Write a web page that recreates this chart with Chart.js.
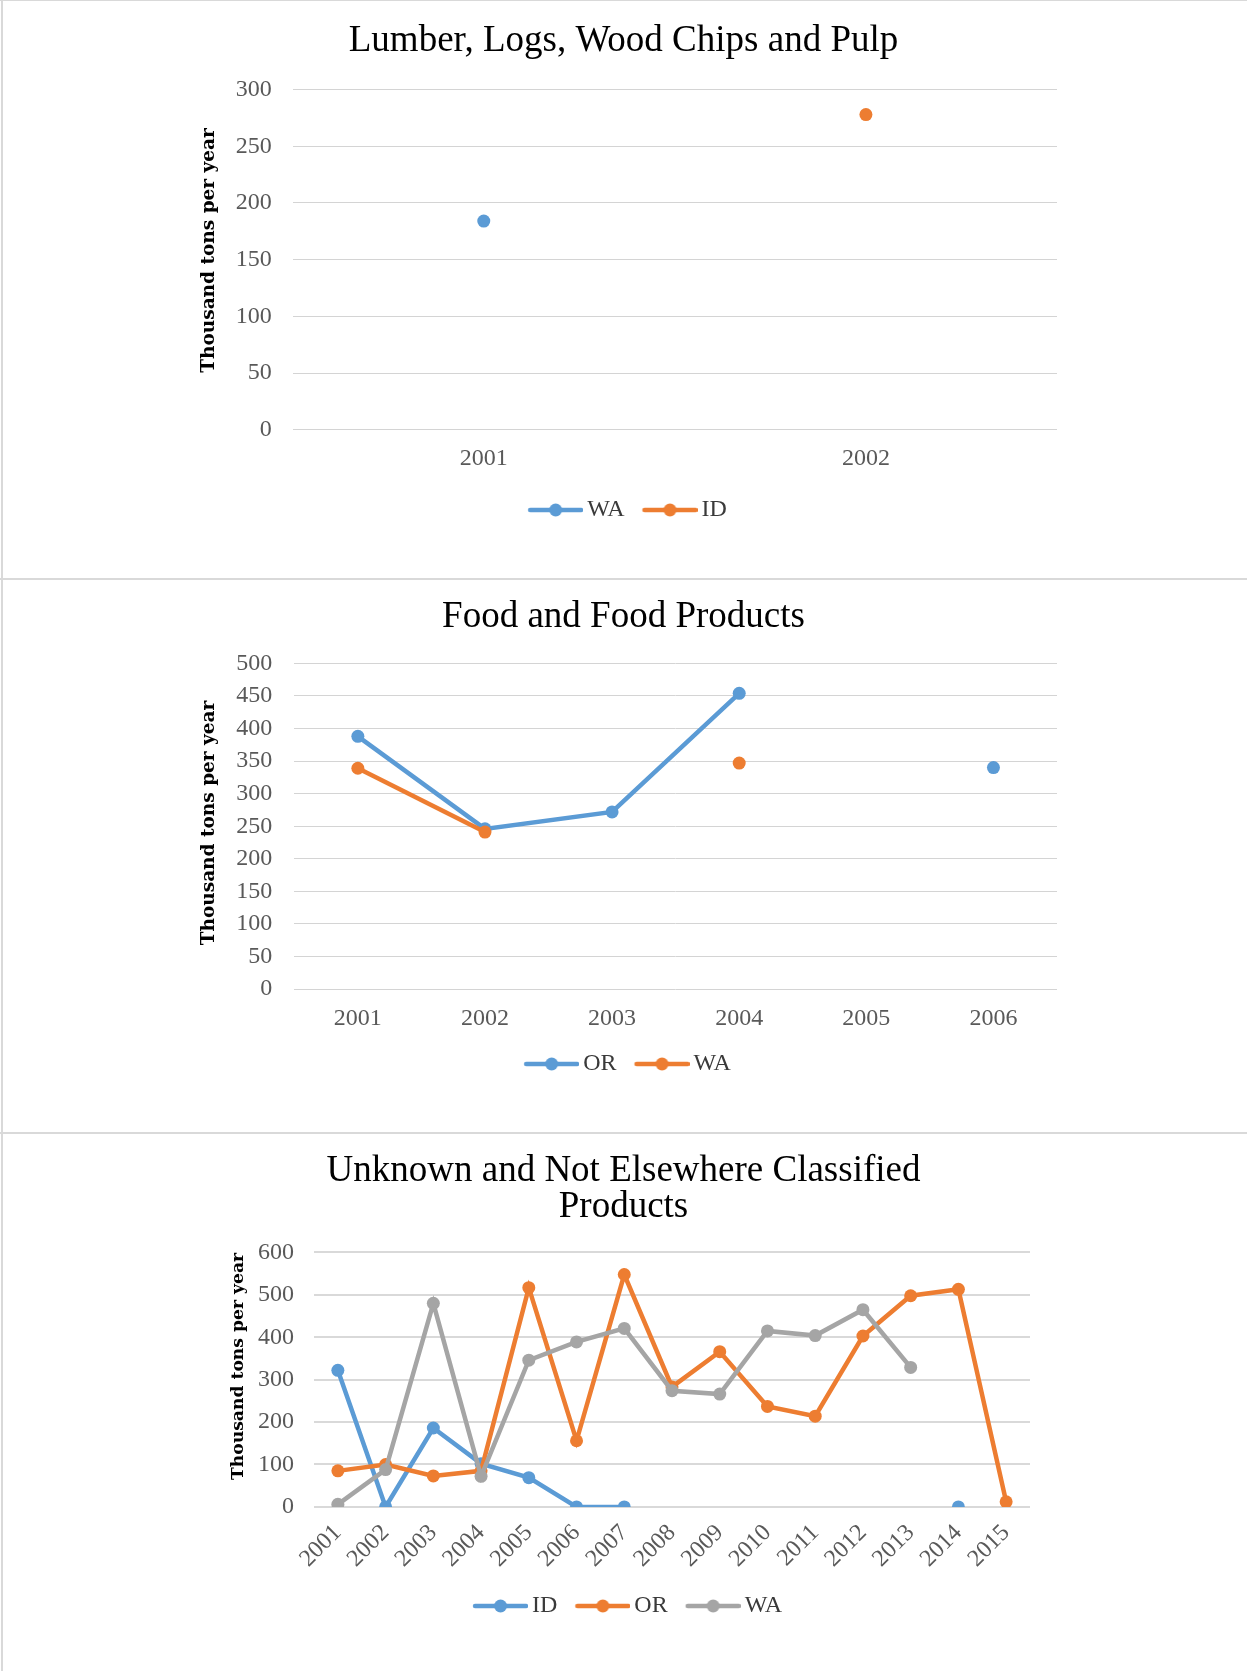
<!DOCTYPE html>
<html><head><meta charset="utf-8">
<script src="https://cdn.jsdelivr.net/npm/chart.js@4"></script>
<style>
html,body{margin:0;padding:0;background:#fff;}
body{width:1247px;height:1671px;position:relative;overflow:hidden;}
canvas{position:absolute;left:0;}
.ln{position:absolute;background:#d9d9d9;}
</style></head><body>
<canvas id="c1" width="1247" height="578" style="top:0px"></canvas>
<canvas id="c2" width="1247" height="554" style="top:578px"></canvas>
<canvas id="c3" width="1247" height="539" style="top:1132px"></canvas>
<div class="ln" style="left:0;top:0;width:1247px;height:1px"></div>
<div class="ln" style="left:1px;top:0;width:2px;height:1671px"></div>
<div class="ln" style="left:0;top:578px;width:1247px;height:2px"></div>
<div class="ln" style="left:0;top:1132px;width:1247px;height:2px"></div>
<script>
// ---- Data ----
const lumberYears = ['2001', '2002'];
const lumberWA = [184, null];
const lumberID = [null, 278];

const foodYears = ['2001', '2002', '2003', '2004', '2005', '2006'];
const foodOR = [388, 246, 272, 454, null, 340];
const foodWA = [339, 241, null, 347, null, null];

const unkYears = ['2001', '2002', '2003', '2004', '2005', '2006', '2007', '2008',
  '2009', '2010', '2011', '2012', '2013', '2014', '2015'];
const unkID = [322, 0, 186, 102, 69, 0, 0, null, null, null, null, null, null, 0, null];
const unkOR = [85, 100, 73, 85, 517, 156, 548, 283, 366, 237, 214, 403, 498, 513, 12];
const unkWA = [6, 88, 480, 72, 346, 389, 421, 274, 266, 415, 404, 465, 329, null, null];

const lumberTitle = 'Lumber, Logs, Wood Chips and Pulp';
const foodTitle = 'Food and Food Products';
const unkTitle = ['Unknown and Not Elsewhere Classified', 'Products'];
const yTitle = 'Thousand tons per year';

// ---- Style ----
const BLUE = '#5b9bd5', ORANGE = '#ed7d31', GRAY = '#a5a5a5';
Chart.defaults.font.family = "'Liberation Serif', serif";

function legendIcon(color) {
  const c = document.createElement('canvas');
  c.width = 71; c.height = 16;
  const x = c.getContext('2d');
  x.strokeStyle = color; x.lineWidth = 4.5; x.lineCap = 'round';
  x.beginPath(); x.moveTo(18, 8); x.lineTo(69, 8); x.stroke();
  x.fillStyle = color;
  x.beginPath(); x.arc(43.5, 8, 6.5, 0, Math.PI * 2); x.fill();
  return c;
}

// vertical axis title drawn as canvas text at the reference's position
const yTitlePlugin = {
  id: 'yTitleText',
  afterDraw(chart, args, o) {
    const ctx = chart.ctx;
    ctx.save();
    ctx.translate(o.x, o.y);
    ctx.rotate(-Math.PI / 2);
    ctx.font = 'bold ' + o.size + "px 'DejaVu Serif', serif";
    ctx.fillStyle = '#000';
    ctx.textAlign = 'center';
    ctx.textBaseline = 'middle';
    ctx.fillText(o.text, 0, 0);
    ctx.restore();
  }
};

function ds(label, data, color, order) {
  return {
    label, data, borderColor: color, backgroundColor: color,
    borderWidth: 4.5, pointRadius: 6.5, pointBorderWidth: 0,
    pointBackgroundColor: color, spanGaps: false, tension: 0, order, yAxisID: 'y'
  };
}

function build(id, p) {
  new Chart(document.getElementById(id), {
    type: 'line',
    data: { labels: p.labels, datasets: p.datasets },
    plugins: [yTitlePlugin],
    options: {
      responsive: false, animation: false, events: [], devicePixelRatio: 1,
      layout: { padding: { top: 0, left: 0, right: 0, bottom: p.padBottom } },
      plugins: {
        tooltip: { enabled: false },
        yTitleText: { text: yTitle, x: p.yTitleX, y: p.yTitleY, size: p.yTitleSize },
        title: {
          display: true, text: p.title, color: '#000',
          font: { size: 37, lineHeight: p.titleLH, weight: 'normal' },
          padding: { top: p.titleTop, bottom: p.titleBottom }
        },
        legend: {
          position: 'bottom',
          labels: {
            usePointStyle: true, pointStyleWidth: 55, padding: 10,
            color: '#3a3a3a', font: { size: 24 },
            generateLabels: (chart) => chart.data.datasets.map((d, i) => ({
              text: d.label, pointStyle: legendIcon(d.borderColor),
              fillStyle: d.borderColor, strokeStyle: d.borderColor, lineWidth: 0,
              hidden: false, datasetIndex: i, fontColor: '#3a3a3a'
            }))
          }
        }
      },
      scales: {
        x: {
          type: 'category', offset: true,
          grid: { display: false, drawTicks: false },
          border: { display: false },
          ticks: {
            color: '#595959', font: { size: p.xFont }, padding: p.xPad,
            autoSkip: false, minRotation: p.rot, maxRotation: p.rot
          },
          afterFit: (s) => { s.height = p.xHeight; }
        },
        y: {
          position: 'left', min: 0, max: p.ymax,
          grid: { color: p.gridColor, lineWidth: p.gridWidth, drawTicks: false },
          border: { display: false },
          ticks: { stepSize: p.ystep, color: '#595959', font: { size: 24 }, padding: p.yPad },
          title: { display: false },
          afterFit: (s) => { s.width = p.yWidth; }
        },
        yRight: {
          position: 'right', min: 0, max: p.ymax,
          grid: { display: false, drawTicks: false },
          border: { display: false },
          ticks: { display: false },
          afterFit: (s) => { s.width = p.rightWidth; }
        }
      }
    }
  });
}

build('c1', {
  labels: lumberYears,
  datasets: [ds('WA', lumberWA, BLUE, 1), ds('ID', lumberID, ORANGE, 0)],
  title: lumberTitle, titleLH: 1.2, titleTop: 19.3, titleBottom: 25.9,
  rightWidth: 190, padBottom: 46, xHeight: 58.3, xPad: 15, xFont: 24, rot: 0,
  ymax: 300, ystep: 50, yPad: 21, yWidth: 292.7,
  yTitleSize: 18.5, yTitleX: 209, yTitleY: 250.5,
  gridColor: '#d4d4d4', gridWidth: 1
});

build('c2', {
  labels: foodYears,
  datasets: [ds('OR', foodOR, BLUE, 1), ds('WA', foodWA, ORANGE, 0)],
  title: foodTitle, titleLH: 1.2, titleTop: 17.3, titleBottom: 23.7,
  rightWidth: 190, padBottom: 46, xHeight: 52.9, xPad: 15.5, xFont: 24, rot: 0,
  ymax: 500, ystep: 50, yPad: 22, yWidth: 294.3,
  yTitleSize: 18.5, yTitleX: 209, yTitleY: 245,
  gridColor: '#d4d4d4', gridWidth: 1
});

build('c3', {
  labels: unkYears,
  datasets: [ds('ID', unkID, BLUE, 2), ds('OR', unkOR, ORANGE, 1), ds('WA', unkWA, GRAY, 0)],
  title: unkTitle, titleLH: 0.978, titleTop: 21.1, titleBottom: 27,
  rightWidth: 217, padBottom: 43, xHeight: 77.1, xPad: 12, xFont: 24, rot: 45,
  ymax: 600, ystep: 100, yPad: 20, yWidth: 314,
  yTitleSize: 17.2, yTitleX: 239, yTitleY: 234.5,
  gridColor: '#d9d9d9', gridWidth: 2
});
</script>
</body></html>
